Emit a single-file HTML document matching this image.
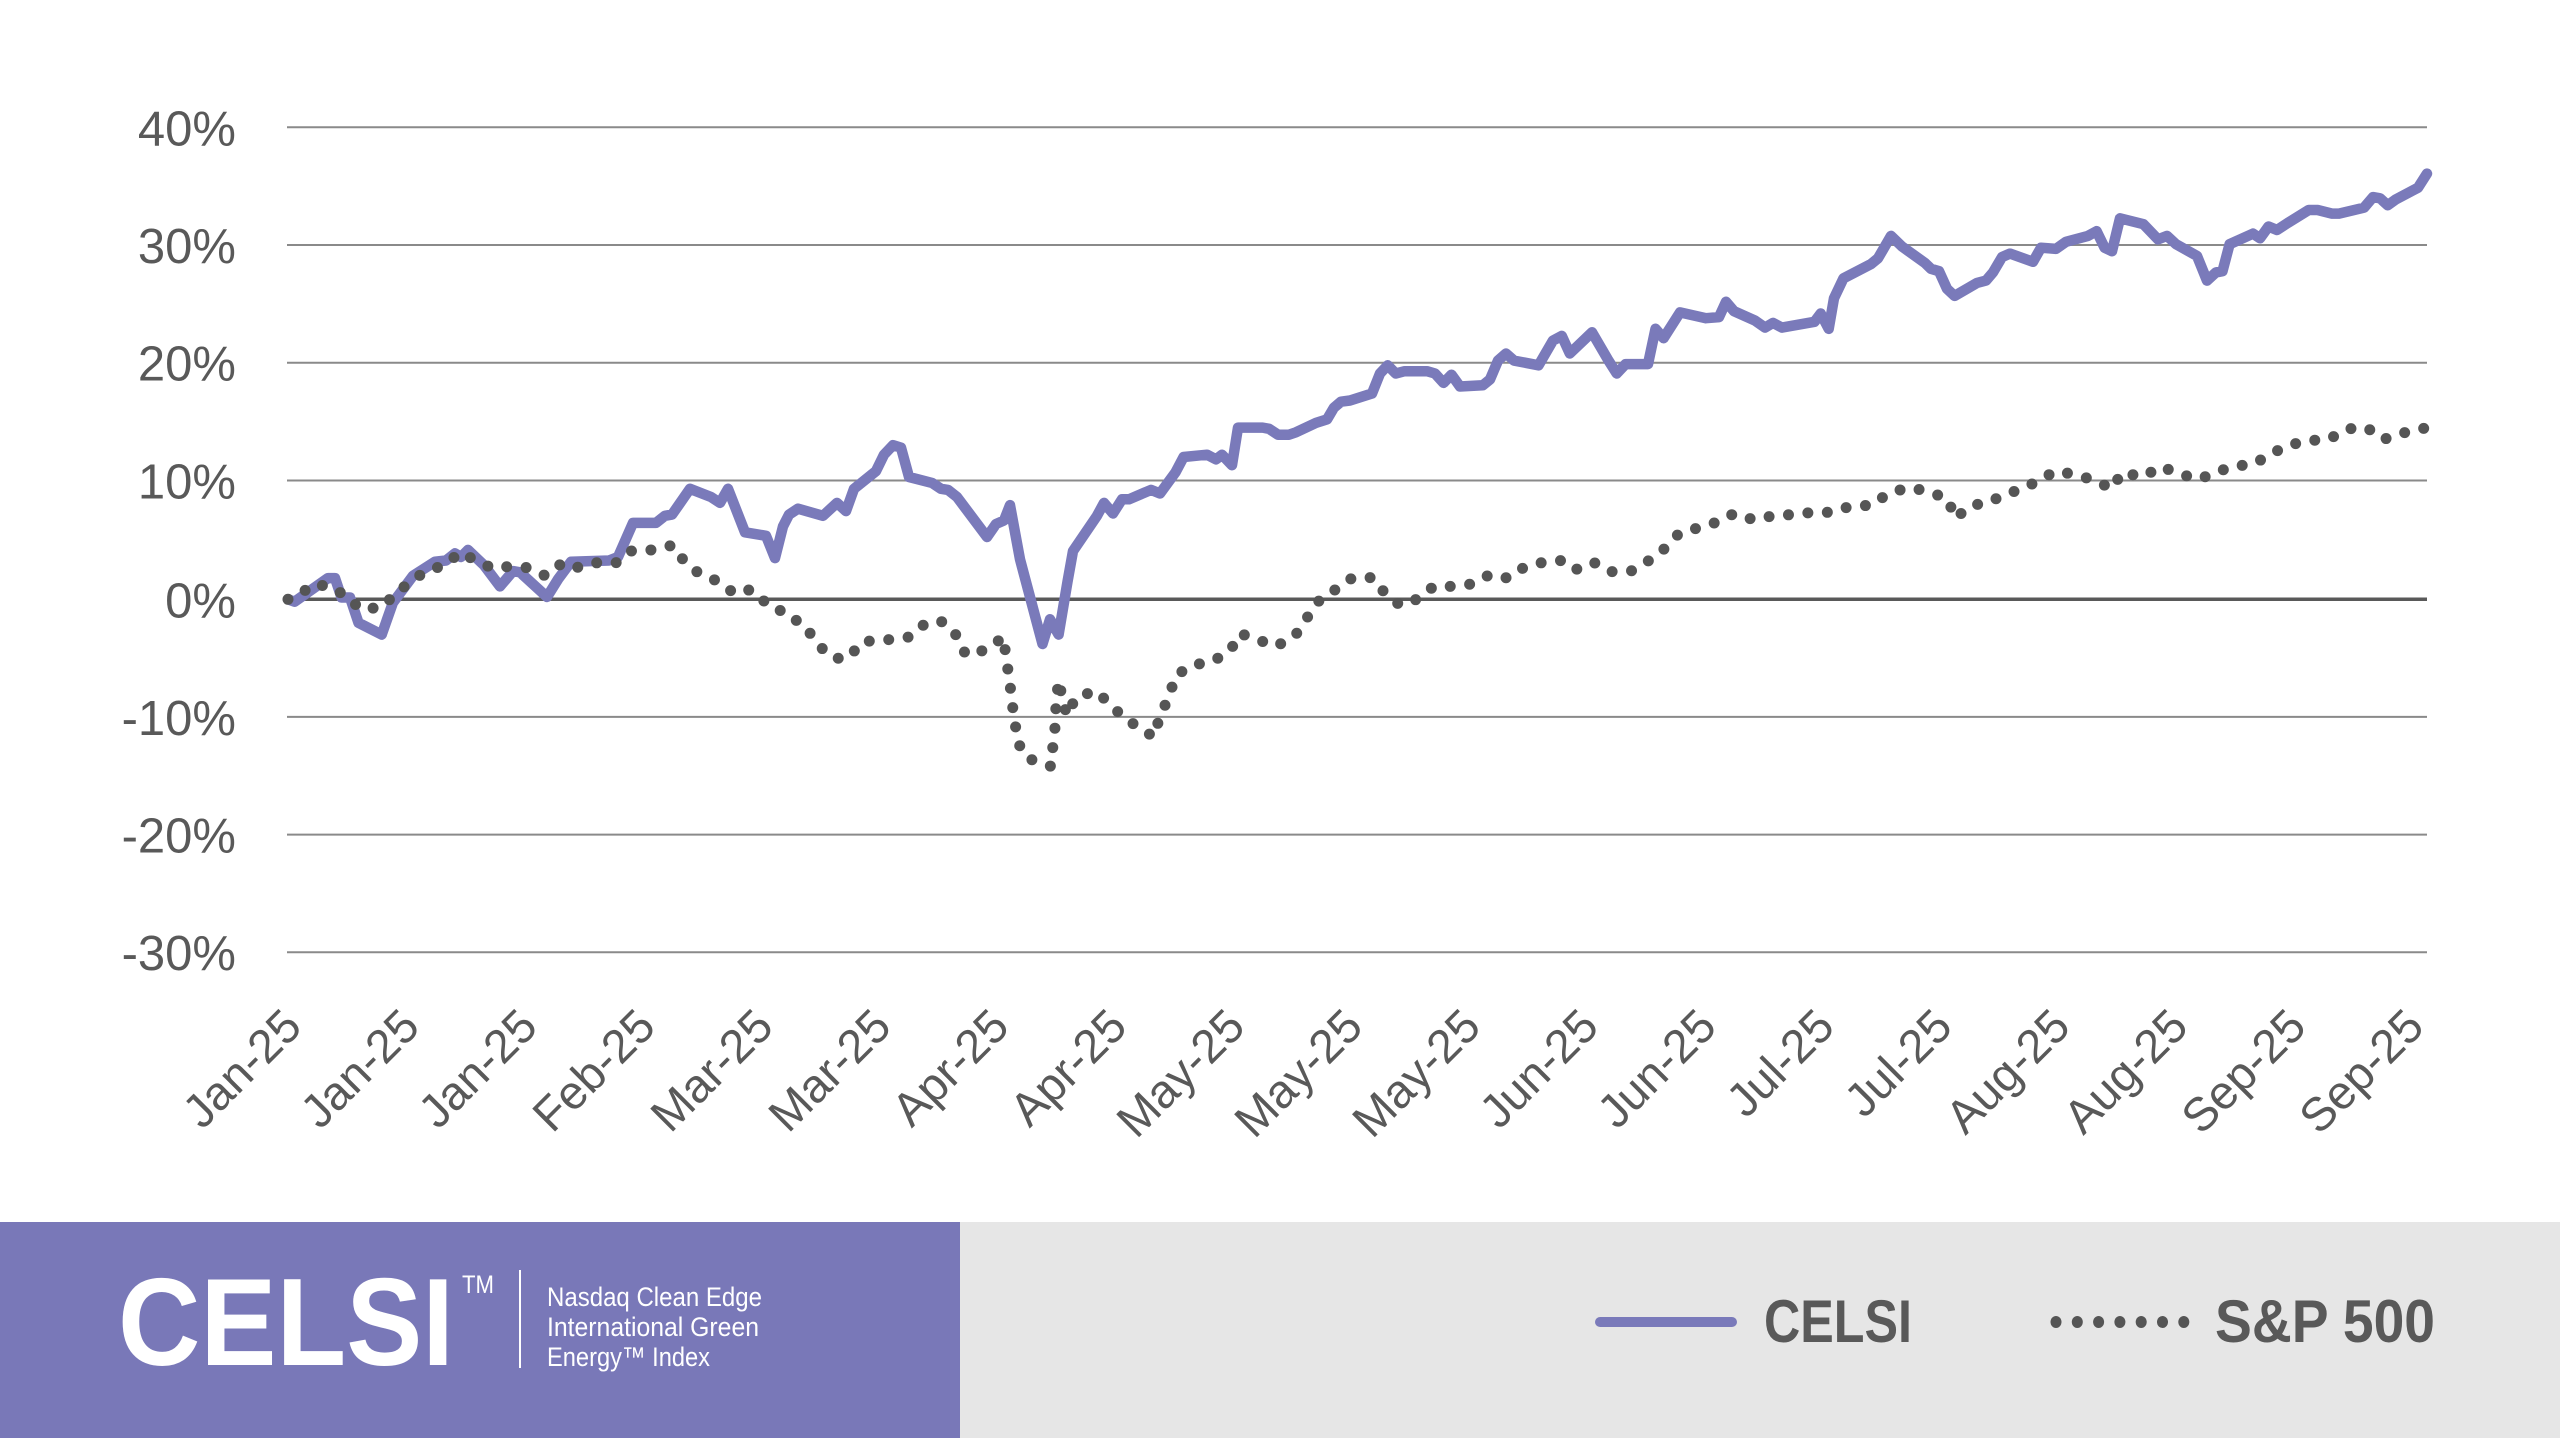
<!DOCTYPE html>
<html><head><meta charset="utf-8"><style>
html,body{margin:0;padding:0;background:#fff;}
svg{display:block;}
</style></head><body>
<svg width="2560" height="1440" viewBox="0 0 2560 1440" xmlns="http://www.w3.org/2000/svg" font-family="'Liberation Sans', sans-serif">
<rect width="2560" height="1440" fill="#fff"/>
<g stroke="#8a8a8a" stroke-width="2">
<line x1="287" y1="127.3" x2="2427" y2="127.3"/>
<line x1="287" y1="245" x2="2427" y2="245"/>
<line x1="287" y1="362.7" x2="2427" y2="362.7"/>
<line x1="287" y1="480.5" x2="2427" y2="480.5"/>
<line x1="287" y1="716.9" x2="2427" y2="716.9"/>
<line x1="287" y1="834.6" x2="2427" y2="834.6"/>
<line x1="287" y1="952.2" x2="2427" y2="952.2"/>
</g>
<line x1="287" y1="599.3" x2="2427" y2="599.3" stroke="#595959" stroke-width="3.5"/>
<g fill="#595959" font-size="49" text-anchor="end">
<text x="236" y="145.3">40%</text>
<text x="236" y="263">30%</text>
<text x="236" y="380.7">20%</text>
<text x="236" y="498.5">10%</text>
<text x="236" y="617.3">0%</text>
<text x="236" y="734.9">-10%</text>
<text x="236" y="852.6">-20%</text>
<text x="236" y="970.2">-30%</text>
</g>
<g fill="#595959" font-size="47" text-anchor="end">
<text transform="translate(304,1029) rotate(-45)">Jan-25</text>
<text transform="translate(421.9,1029) rotate(-45)">Jan-25</text>
<text transform="translate(539.8,1029) rotate(-45)">Jan-25</text>
<text transform="translate(657.7,1029) rotate(-45)">Feb-25</text>
<text transform="translate(775.6,1029) rotate(-45)">Mar-25</text>
<text transform="translate(893.5,1029) rotate(-45)">Mar-25</text>
<text transform="translate(1011.4,1029) rotate(-45)">Apr-25</text>
<text transform="translate(1129.3,1029) rotate(-45)">Apr-25</text>
<text transform="translate(1247.2,1029) rotate(-45)">May-25</text>
<text transform="translate(1365.1,1029) rotate(-45)">May-25</text>
<text transform="translate(1483,1029) rotate(-45)">May-25</text>
<text transform="translate(1600.9,1029) rotate(-45)">Jun-25</text>
<text transform="translate(1718.8,1029) rotate(-45)">Jun-25</text>
<text transform="translate(1836.7,1029) rotate(-45)">Jul-25</text>
<text transform="translate(1954.6,1029) rotate(-45)">Jul-25</text>
<text transform="translate(2072.5,1029) rotate(-45)">Aug-25</text>
<text transform="translate(2190.4,1029) rotate(-45)">Aug-25</text>
<text transform="translate(2308.3,1029) rotate(-45)">Sep-25</text>
<text transform="translate(2426.2,1029) rotate(-45)">Sep-25</text>
</g>
<polyline fill="none" stroke="#7a7aba" stroke-width="10.5" stroke-linejoin="round" stroke-linecap="round" points="288,599.3 294.6,601.7 328,578.1 335,578.1 341.5,597.5 350,597.5 358.5,622.8 381.7,634.6 392.9,602.8 413,575.8 435,561.7 446,560.5 455,553.4 461,557 468,549.9 484,565.2 500,586.4 513,571.1 520,572.3 547,597 558,579.3 571,561.7 609,560.5 618,557 633,522.9 656,522.9 665,515.8 672,514.6 678.6,505.2 690,488.8 711,497 720,502.9 728,488.8 745,532.3 766,535.8 775,558.1 783,526.4 789,514.6 798,508.7 823,515.8 837,502.9 846,511.1 854,488.8 876,471.1 884,454.7 893,445.2 901,447.6 909,477 932,482.9 941,488.8 948,489.9 957,497 987,537 996,524 1004,520.5 1010,505.2 1020,559.3 1042.5,644 1050,619.3 1058.6,634.6 1067.5,581.7 1073,551.1 1097,515.8 1104,502.9 1113,513.5 1122,499.3 1129,499.3 1151,489.9 1160,493.5 1175.5,472.3 1183.6,457 1207,454.7 1216,459.4 1222,454.7 1232,465.2 1238,427.6 1262.6,427.6 1269,428.8 1278,434.7 1289,434.7 1296,432.3 1316,422.9 1327,419.4 1334,407.6 1341,401.7 1350,400.5 1372,393.5 1380,373.5 1387.7,365.3 1395.7,373.5 1404.6,371.2 1427,371.2 1435,373.5 1443.5,382.9 1451.5,374.7 1460,386.5 1482.8,385.3 1490,379.4 1498,360.6 1506,353.5 1514,360.6 1538.6,365.3 1552.9,340.6 1561.8,335.9 1569.8,353.5 1592,332.3 1607.8,359.4 1616.7,373.5 1625.6,364.1 1648,364.1 1655.5,328.8 1663.6,338.2 1680,312.4 1706,318.2 1719,317.1 1726,301.8 1734,311.2 1755,320.6 1765,327.6 1773,322.9 1782,327.6 1814.5,321.8 1820.7,313.5 1828.7,328.8 1834,298.2 1843.5,278.3 1871,264.1 1878,258.3 1891,235.9 1902,246.5 1925,263 1931,268.8 1939,271.2 1947,288.8 1954.6,295.9 1977,282.9 1986,280.6 1993,272.4 2002,257.1 2010,253.6 2033,261.8 2041,247.7 2056,248.9 2066,241.8 2088,235.9 2096.6,231.2 2104.6,247.7 2112,251.2 2120,218.3 2143.5,224.2 2158,239.4 2167,235.9 2176,244.2 2197,255.9 2207,280.6 2216,272.4 2222.5,271.2 2229.6,244.2 2253,233.6 2260,238.3 2268.5,226.5 2277,230 2287.7,223 2308.7,210 2317.6,210 2332,213.6 2339,213.6 2364,207.7 2373,197.1 2380,198.3 2387.7,205.3 2395.7,199.5 2418,187.7 2427,173.6"/>
<polyline fill="none" stroke="#555555" stroke-width="11" stroke-linecap="round" stroke-linejoin="round" stroke-dasharray="0 19.5" points="288,599.3 297.8,595.8 313.8,584 330,586.8 346,595.8 360.7,609.3 382,607.2 395,594 407.6,584 424,572.3 443.8,565.2 460.7,552.3 477.7,561.7 494,568.7 509,566.4 526,567.5 545.5,575.8 562.5,562.8 576.8,567.5 596,562.8 616,562.8 630,551.1 651.8,549.9 672.8,545.2 684.5,561.7 699,573.4 719,581.7 732.7,592.2 741,588.7 754.6,591.1 769,606.4 779.6,609.9 788,618.1 800.5,621.6 814,638.1 827,654.6 841.6,659.3 849.6,656.9 861.7,641.6 880,640.5 892,639.3 910,636.9 926,622.8 943,621.6 956.8,635.8 965.7,654.6 985.8,649.9 1003.7,636.9 1006,658.1 1009.5,679.3 1011.7,700.4 1014.8,721.6 1018,742.8 1027,758.1 1044.7,764 1051,766.3 1053,745.1 1055.4,724 1056,702.8 1058.6,680.4 1062.6,699.3 1067,715.7 1076,696.9 1096.5,691 1109.5,704 1122,715.7 1138.5,727.5 1154,736.9 1160,715.7 1169,696.9 1175.5,675.7 1192,665.2 1212,661.6 1230,651 1240,633.4 1260,640.5 1276,646.3 1295,635.8 1306,619.3 1318,601.7 1335,589.9 1352,578.1 1373,577.5 1385,593.4 1400,605.2 1416.7,599.3 1433.7,586.4 1450.6,586.4 1471.6,584 1490,574.6 1508,578.1 1523.8,567.5 1543,562.3 1561.8,560.5 1575,569.9 1593.5,562.3 1611,571.7 1631,571.1 1649,560.5 1664.5,548.7 1679,533.4 1699,527.6 1718.5,521.7 1734,513.5 1754,519.9 1773,515.8 1791.7,514.6 1813,512.3 1831,512.3 1850,506.4 1872,505.2 1888,493.5 1908,487.6 1928,491.1 1948,499.3 1955,518.2 1971.6,505.2 1988,502.9 2004,494.6 2023,488.8 2038.6,480.5 2055.5,471.1 2075.6,474.6 2095,480.5 2112,488.8 2122,472.3 2142.6,477 2161,466.4 2178,473.5 2199,479.3 2216,472.3 2232.8,466.4 2253.7,464.1 2271.6,453.5 2288.6,445.2 2309.5,440.5 2328.7,439.4 2347.5,428.8 2366.7,427.6 2383.6,439.4 2401,433.5 2421.6,428.8 2427,427.6"/>
<rect x="0" y="1222" width="960" height="216" fill="#7978b8"/>
<rect x="960" y="1222" width="1600" height="216" fill="#e6e6e6"/>
<text x="118" y="1365" font-size="124" font-weight="bold" fill="#fff" textLength="336" lengthAdjust="spacingAndGlyphs">CELSI</text>
<text x="462" y="1293" font-size="25" fill="#fff" textLength="32" lengthAdjust="spacingAndGlyphs">TM</text>
<line x1="520" y1="1270" x2="520" y2="1368" stroke="#fff" stroke-width="2"/>
<g fill="#fff" font-size="27">
<text x="547" y="1306" textLength="215" lengthAdjust="spacingAndGlyphs">Nasdaq Clean Edge</text>
<text x="547" y="1336" textLength="212" lengthAdjust="spacingAndGlyphs">International Green</text>
<text x="547" y="1366" textLength="163" lengthAdjust="spacingAndGlyphs">Energy™ Index</text>
</g>
<line x1="1600" y1="1322" x2="1732" y2="1322" stroke="#7a7aba" stroke-width="10" stroke-linecap="round"/>
<text x="1764" y="1342" font-size="60" font-weight="bold" fill="#595959" textLength="148" lengthAdjust="spacingAndGlyphs">CELSI</text>
<g fill="#555555">
<ellipse cx="2056" cy="1322" rx="5.5" ry="6"/>
<ellipse cx="2077.3" cy="1322" rx="5.5" ry="6"/>
<ellipse cx="2098.6" cy="1322" rx="5.5" ry="6"/>
<ellipse cx="2119.9" cy="1322" rx="5.5" ry="6"/>
<ellipse cx="2141.2" cy="1322" rx="5.5" ry="6"/>
<ellipse cx="2162.5" cy="1322" rx="5.5" ry="6"/>
<ellipse cx="2183.8" cy="1322" rx="5.5" ry="6"/>
</g>
<text x="2215" y="1342" font-size="60" font-weight="bold" fill="#595959" textLength="220" lengthAdjust="spacingAndGlyphs">S&amp;P 500</text>
</svg>
</body></html>
